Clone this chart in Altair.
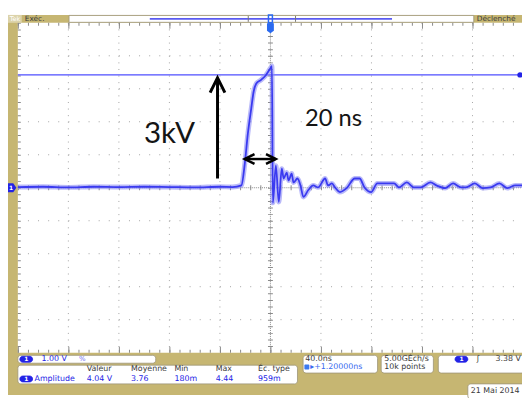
import altair as alt
import pandas as pd

# ---------------- data (time in ns, amplitude in V, 40 ns/div, 1 V/div) ----------------
t_ns = [-200, -180, -160, -140, -120, -100, -80, -60, -40, -30,
        -23.0, -20.3, -17.9, -15.2, -13.3, -11.3, -7.4, -3.5, -0.4, 1.2,
        1.9, 4.3, 6.6, 9.0, 10.5, 12.9, 14.4, 16.8, 18.3, 21.4,
        23.8, 26.1, 30.0, 33.9, 37.8, 43.3, 45.6, 48.7, 51.1, 55.0,
        60.4, 66.7, 70.6, 74.5, 79.9, 84.6, 92.4, 97.9, 101.8, 108.0,
        113.5, 118.9, 126.7, 131.4, 138.4, 144.6, 150.9, 154.8, 161.8, 168.0,
        174.3, 181.3, 187.5, 193.8, 199.2]
v_volts = [0.02, 0.03, 0.01, 0.03, 0.02, 0.03, 0.02, 0.01, 0.03, 0.02,
           0.07, 0.73, 1.63, 2.40, 2.91, 3.15, 3.27, 3.42, 3.60, 3.69,
           -0.46, 0.67, -0.43, 0.58, 0.28, 0.46, 0.22, 0.43, 0.16, 0.28,
           0.07, -0.28, -0.07, 0.07, 0.01, 0.28, 0.07, 0.13, 0.01, -0.13,
           -0.01, 0.28, 0.28, 0.01, -0.13, 0.13, 0.13, 0.13, 0.01, 0.16,
           0.01, 0.01, 0.16, 0.07, -0.01, 0.13, 0.01, 0.01, 0.13, -0.01,
           0.01, 0.13, -0.01, 0.07, 0.07]

x_divs = [-160, -120, -80, -40, 40, 80, 120, 160]
y_divs = [-4, -3, -2, -1, 1, 2, 3, 4]
X_DOMAIN = [-200, 199.2]
Y_DOMAIN = [-5, 5]
trigger_level = [3.42]

# annotations
arrow_t = [-41.9]
arrow_v = [0.28]
arrow_v_tip = [3.33]
span_t = [-20.4]
span_t2 = [4.3]
span_v = [0.87]
text_labels = ["3kV", "20 ns"]
text_t = [-79.9, 49.9]
text_v = [1.36, 1.87]
text_sizes = [30, 24]

# oscilloscope readouts
top_left = ["Tek", "Exéc."]
top_right = ["Déclenché"]
ch_scale = ["1.00 V", "%"]
meas_headers = ["Valeur", "Moyenne", "Min", "Max", "Éc. type"]
meas_name = ["Amplitude"]
meas_values = ["4.04 V", "3.76", "180m", "4.44", "959m"]
horiz_info = ["40.0ns", "▸+1.20000ns"]
acq_info = ["5.00GÉch/s", "10k points"]
trig_info = ["3.38 V"]
date_info = ["21 Mai 2014"]

# ---------------- styling ----------------
W, H = 512, 335
KHAKI = "#c6b672"
BLUE = "#2323e6"
TRACE = "#3a3af0"
DARK = "#3a3a3a"
GRID = "#a3a3a3"
UI = "DejaVu Sans"

xs = alt.Scale(domain=X_DOMAIN, nice=False, zero=False)
ys = alt.Scale(domain=Y_DOMAIN, nice=False, zero=False)


def X(f):
    return alt.X(f, type="quantitative", scale=xs, axis=None)


def Y(f):
    return alt.Y(f, type="quantitative", scale=ys, axis=None)


one = pd.DataFrame({"a": [0]})


def box(x1, y1, x2, y2, fill="white", stroke="#9c9478", r=3, sw=0.8):
    return alt.Chart(one).mark_rect(fill=fill, stroke=stroke, strokeWidth=sw,
                                    cornerRadius=r).encode(
        x=alt.value(x1), x2=alt.value(x2), y=alt.value(y1), y2=alt.value(y2))


def label(s, x, y, color=DARK, size=8, align="left", font=UI, weight="normal"):
    return alt.Chart(one).mark_text(text=s, align=align, baseline="middle", color=color,
                                    fontSize=size, font=font, fontWeight=weight).encode(
        x=alt.value(x), y=alt.value(y))


def hrule(y, x1, x2, color, sw=1, dash=None):
    kw = dict(color=color, strokeWidth=sw)
    if dash:
        kw["strokeDash"] = dash
    return alt.Chart(one).mark_rule(**kw).encode(
        x=alt.value(x1), x2=alt.value(x2), y=alt.value(y))


def vrule(x, y1, y2, color, sw=1, dash=None):
    kw = dict(color=color, strokeWidth=sw)
    if dash:
        kw["strokeDash"] = dash
    return alt.Chart(one).mark_rule(**kw).encode(
        x=alt.value(x), y=alt.value(y1), y2=alt.value(y2))


def badge(x, y):
    return [box(x, y - 3, x + 13, y + 3, fill=BLUE, stroke=BLUE, r=3),
            label("1", x + 6.5, y, color="white", size=6, align="center", weight="bold")]


layers = []
# frame
layers.append(box(-10, -8, W, H + 43, fill=KHAKI, stroke=KHAKI, r=0, sw=0))
layers.append(box(0, 0, W, H, fill="white", stroke="white", r=0, sw=0))

# grid
df_xd = pd.DataFrame({"t": x_divs})
df_yd = pd.DataFrame({"v": y_divs})
sub_x = W / 49.9
sub_y = H / 50
layers.append(alt.Chart(df_xd).mark_rule(color=GRID, strokeWidth=1, strokeDash=[1, sub_y - 1]).encode(
    x=X("t"), y=alt.value(0), y2=alt.value(H)))
layers.append(alt.Chart(df_yd).mark_rule(color=GRID, strokeWidth=1, strokeDash=[1, sub_x - 1]).encode(
    y=Y("v"), x=alt.value(0), x2=alt.value(W)))

# center cross with ticks
zero_t = pd.DataFrame({"t": [0]})
zero_v = pd.DataFrame({"v": [0]})
layers.append(alt.Chart(zero_t).mark_rule(color="#8a8a8a", strokeWidth=1, strokeDash=[1, 1]).encode(
    x=X("t"), y=alt.value(0), y2=alt.value(H)))
layers.append(alt.Chart(zero_t).mark_rule(color="#8a8a8a", strokeWidth=5, strokeDash=[1, sub_y - 1]).encode(
    x=X("t"), y=alt.value(0), y2=alt.value(H)))
layers.append(alt.Chart(zero_v).mark_rule(color="#8a8a8a", strokeWidth=1, strokeDash=[1, 1]).encode(
    y=Y("v"), x=alt.value(0), x2=alt.value(W)))
layers.append(alt.Chart(zero_v).mark_rule(color="#8a8a8a", strokeWidth=5, strokeDash=[1, sub_x - 1]).encode(
    y=Y("v"), x=alt.value(0), x2=alt.value(W)))

# edge ticks
layers.append(hrule(1.5, 0, W, "#8a8a8a", 3, [1, sub_x - 1]))
layers.append(hrule(3, 0, W, "#8a8a8a", 6, [1, 5 * sub_x - 1]))
layers.append(hrule(H - 1.5, 0, W, "#8a8a8a", 3, [1, sub_x - 1]))
layers.append(hrule(H - 3, 0, W, "#8a8a8a", 6, [1, 5 * sub_x - 1]))
layers.append(vrule(1.5, 0, H, "#8a8a8a", 3, [1, sub_y - 1]))

# trigger level cursor
df_trig = pd.DataFrame({"v": trigger_level})
layers.append(alt.Chart(df_trig).mark_rule(color="#4f4fff", strokeWidth=1.4).encode(
    y=Y("v"), x=alt.value(0), x2=alt.value(W)))

# trace
df = pd.DataFrame({"t": t_ns, "v": v_volts})
layers.append(alt.Chart(df).mark_line(color="#8c8cf5", strokeWidth=5, opacity=0.6, interpolate="monotone",
                                      strokeJoin="round").encode(x=X("t"), y=Y("v")))
layers.append(alt.Chart(df).mark_line(color=TRACE, strokeWidth=1.8, strokeJoin="round",
                                      interpolate="monotone").encode(x=X("t"), y=Y("v")))

# annotations
df_arrow = pd.DataFrame({"t": arrow_t, "v": arrow_v, "v2": arrow_v_tip})
layers.append(alt.Chart(df_arrow).mark_rule(color="black", strokeWidth=3).encode(
    x=X("t"), y=Y("v"), y2="v2"))
layers.append(alt.Chart(df_arrow).mark_point(shape="M-1,2L0,0L1,2", filled=False, color="black",
                                             strokeWidth=3, size=225, opacity=1).encode(
    x=X("t"), y=Y("v2")))
df_span = pd.DataFrame({"t": span_t, "t2": span_t2, "v": span_v})
layers.append(alt.Chart(df_span).mark_rule(color="black", strokeWidth=2.5).encode(
    x=X("t"), x2="t2", y=Y("v")))
layers.append(alt.Chart(df_span).mark_point(shape="M2,-1L0,0L2,1", filled=False, color="black",
                                            strokeWidth=2.5, size=100, opacity=1).encode(
    x=X("t"), y=Y("v")))
layers.append(alt.Chart(df_span).mark_point(shape="M-2,-1L0,0L-2,1", filled=False, color="black",
                                            strokeWidth=2.5, size=100, opacity=1).encode(
    x=X("t2"), y=Y("v")))
for s, tt, vv, fs in zip(text_labels, text_t, text_v, text_sizes):
    d = pd.DataFrame({"t": [tt], "v": [vv]})
    layers.append(alt.Chart(d).mark_text(text=s, font="Lato", fontSize=fs, color="#151515",
                                         align="center", baseline="alphabetic").encode(
        x=X("t"), y=Y("v")))

# markers on the graticule
layers.append(alt.Chart(zero_v).mark_point(shape="M-1,-1L0.3,-1L1,0L0.3,1L-1,1Z", filled=True,
                                           color=BLUE, size=81, opacity=1).encode(
    x=alt.value(-6), y=Y("v")))
layers.append(alt.Chart(zero_v).mark_text(text="1", color="white", fontSize=6, font=UI,
                                          fontWeight="bold").encode(x=alt.value(-7), y=Y("v")))
layers.append(alt.Chart(df_trig).mark_point(shape="circle", filled=True, color=BLUE, size=30,
                                            opacity=1).encode(x=alt.value(W - 2), y=Y("v")))
layers.append(alt.Chart(zero_t).mark_point(shape="M-0.7,-1L0.7,-1L0.7,0.5L0,1L-0.7,0.5Z", filled=True,
                                           color="#2a6af0", size=100, opacity=1).encode(
    x=X("t"), y=alt.value(5.5)))

# top bar
layers.append(box(-10, -8, 4, 0, fill="#dcd3aa", stroke="#dcd3aa", r=0, sw=0))
layers.append(label(top_left[0], -3, -4, color="white", size=6.5, align="center"))
layers.append(label(top_left[1], 7, -4, color=DARK, size=7.5))
layers.append(box(52, -7.5, 463, -0.5, fill="white", stroke="#9c9478", r=0, sw=0.8))
layers.append(hrule(-4, 134, 380, "#5a5af0", 2))
layers.append(vrule(234, -7, -1, "#777777", 1))
layers.append(vrule(282, -7, -1, "#777777", 1))
layers.append(alt.Chart(zero_t).mark_point(shape="M-0.5,-1L0.5,-1L0.5,1L-0.5,1Z", filled=False,
                                           color="#2a6af0", strokeWidth=1.5, size=64, opacity=1).encode(
    x=X("t"), y=alt.value(-4)))
layers.append(label(top_right[0], 466, -4, color=DARK, size=7.5))

# bottom readouts
layers.append(box(0, 337.7, 140, 345.7))
layers += badge(2, 341.7)
layers.append(label(ch_scale[0], 24, 341.7, color=BLUE, size=8))
layers.append(label(ch_scale[1], 62, 341.7, color="#6a6af0", size=7))

layers.append(box(0, 347.7, 284, 366.7))
head_x = [70, 115, 159, 201, 244]
for s, x in zip(meas_headers, head_x):
    layers.append(label(s, x, 351.9, color=DARK, size=8))
layers += badge(2, 361.7)
layers.append(label(meas_name[0], 17, 361.7, color=BLUE, size=8))
for s, x in zip(meas_values, head_x):
    layers.append(label(s, x, 361.7, color=BLUE, size=8))

layers.append(box(289.7, 337.7, 365.3, 355.7))
layers.append(label(horiz_info[0], 292, 341.5, color=DARK, size=8))
layers.append(box(291, 347, 296, 352, fill="#3a7af0", stroke="#3a7af0", r=1, sw=0))
layers.append(label(horiz_info[1], 297, 350, color="#3a6af0", size=8))

layers.append(box(369, 337.7, 422, 355.7))
layers.append(label(acq_info[0], 372, 341.5, color=DARK, size=8))
layers.append(label(acq_info[1], 372, 350, color=DARK, size=8))

layers.append(box(427, 337.7, 516, 355.7))
layers += badge(444, 341.7)
layers.append(label("ʃ", 466, 341.7, color=DARK, size=8))
layers.append(label(trig_info[0], 485, 341.7, color=DARK, size=8))

layers.append(box(457, 366.7, 516, 382))
layers.append(label(date_info[0], 460, 373.5, color=DARK, size=8))

chart = alt.layer(*layers).properties(
    width=W, height=H,
    padding={"left": 10, "top": 12, "right": 0, "bottom": 43},
    autosize=alt.AutoSizeParams(type="none"),
    background="white",
).configure_view(stroke=None)

chart.save("out.html", embed_options={"renderer": "svg", "actions": False})
